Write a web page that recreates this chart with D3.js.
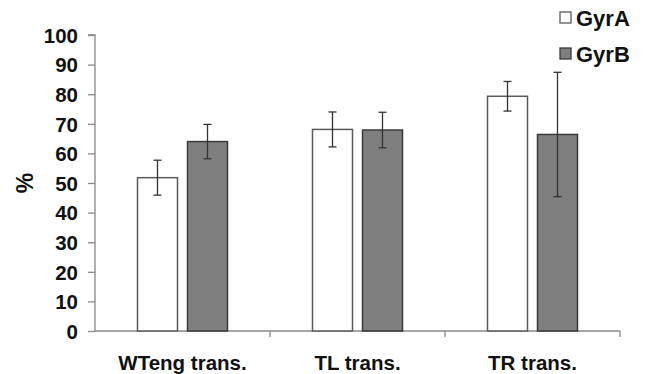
<!DOCTYPE html>
<html><head><meta charset="utf-8">
<script src="https://cdn.jsdelivr.net/npm/d3@7"></script>
<style>body{margin:0;background:#fff}svg{display:block}text{font-family:"Liberation Sans",Arial,sans-serif;font-weight:bold;fill:#111}</style>
</head><body>
<svg id="c" width="654" height="374"></svg>
<script>
const categories = ["WTeng trans.", "TL trans.", "TR trans."];
const seriesNames = ["GyrA", "GyrB"];
const gyrA = [51.8, 68.1, 79.3];
const gyrAErr = [5.9, 5.9, 5.0];
const gyrB = [64.0, 67.9, 66.4];
const gyrBErr = [5.8, 6.0, 21.0];
const yTicks = [0, 10, 20, 30, 40, 50, 60, 70, 80, 90, 100];

const svg = d3.select("#c");
const m = {l: 95, r: 34, t: 35, b: 43};
const x = d3.scaleBand().domain(categories).range([m.l, 620]);
const y = d3.scaleLinear().domain([0, 100]).range([331, 35]);
const bw = 40, gap = 10;
const fills = ["#ffffff", "#7f7f7f"];
const strokes = ["#5a5a5a", "#3a3a3a"];
const vals = [gyrA, gyrB], errs = [gyrAErr, gyrBErr];

// y axis
const ya = svg.append("g").attr("transform", `translate(${m.l},0)`)
  .call(d3.axisLeft(y).tickValues(yTicks).tickSize(7).tickPadding(10));
ya.select(".domain").attr("stroke", "#888").attr("stroke-width", 1.3).attr("d", `M-7,${y(100)}H0V${y(0)}`);
ya.selectAll(".tick line").attr("stroke", "#888").attr("stroke-width", 1.3);
ya.selectAll(".tick text").style("font-size", "20.5px").style("font-weight", "bold").attr("fill", "#111").attr("dy", "0.36em");

// x axis
const xa = svg.append("g").attr("transform", `translate(0,${y(0)})`)
  .call(d3.axisBottom(x).tickSize(0).tickPadding(24));
xa.select(".domain").attr("stroke", "#888").attr("stroke-width", 1.3).attr("d", `M${m.l},0H620`);
xa.selectAll(".tick text").style("font-size", "20.5px").style("font-weight", "bold").attr("fill", "#111");
const bounds = categories.slice(1).map(c => x(c)).concat([620]);
svg.append("g").selectAll("line").data(bounds).join("line")
  .attr("x1", d => d).attr("x2", d => d).attr("y1", y(0)).attr("y2", y(0) + 6)
  .attr("stroke", "#888").attr("stroke-width", 1.3);

// bars
seriesNames.forEach((s, si) => {
  const off = -(bw + gap / 2) + si * (bw + gap);
  const g = svg.append("g");
  g.selectAll("rect").data(categories).join("rect")
    .attr("x", c => x(c) + x.bandwidth() / 2 + off)
    .attr("y", (c, i) => y(vals[si][i]))
    .attr("width", bw)
    .attr("height", (c, i) => y(0) - y(vals[si][i]))
    .attr("fill", fills[si]).attr("stroke", strokes[si]).attr("stroke-width", 1.5);
  categories.forEach((c, i) => {
    const cx = x(c) + x.bandwidth() / 2 + off + bw / 2;
    const v = vals[si][i], e = errs[si][i];
    const eg = svg.append("g").attr("stroke", "#333").attr("stroke-width", 1.3);
    eg.append("line").attr("x1", cx).attr("x2", cx).attr("y1", y(v + e)).attr("y2", y(v - e));
    eg.append("line").attr("x1", cx - 4).attr("x2", cx + 4).attr("y1", y(v + e)).attr("y2", y(v + e));
    eg.append("line").attr("x1", cx - 4).attr("x2", cx + 4).attr("y1", y(v - e)).attr("y2", y(v - e));
  });
});

// y label
svg.append("text").attr("transform", "translate(33,183) rotate(-90)")
  .attr("text-anchor", "middle").style("font-size", "23px").text("%");

// legend
const lg = svg.append("g");
seriesNames.forEach((s, i) => {
  const cy = 18 + i * 36;
  lg.append("rect").attr("x", 560).attr("y", cy - 6).attr("width", 11).attr("height", 11)
    .attr("fill", fills[i]).attr("stroke", strokes[i]).attr("stroke-width", 1.3);
  lg.append("text").attr("x", 576).attr("y", cy).attr("dy", "0.36em")
    .style("font-size", "22px").text(s);
});
</script>
</body></html>
